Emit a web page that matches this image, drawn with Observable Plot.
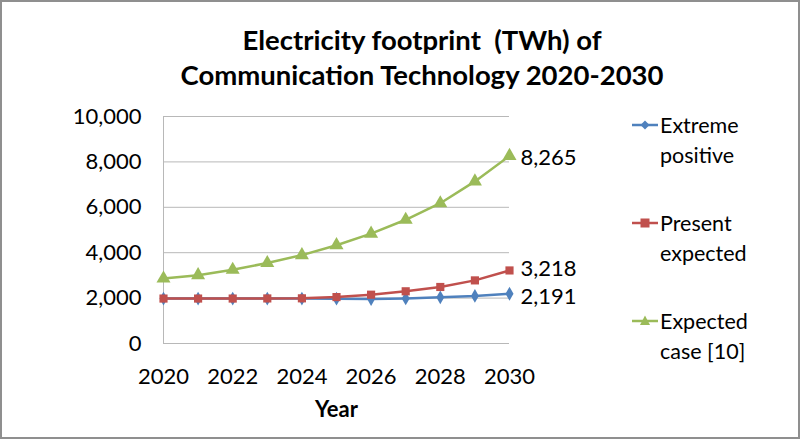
<!DOCTYPE html>
<html>
<head>
<meta charset="utf-8">
<script src="https://cdn.jsdelivr.net/npm/d3@7"></script>
<script src="https://cdn.jsdelivr.net/npm/@observablehq/plot@0.6"></script>
<style>
  body { margin: 0; background: #fff; font-family: Lato, "Open Sans", sans-serif; }
  #wrap { position: relative; width: 800px; height: 439px; overflow: hidden; }
  #frame { position: absolute; left: 0; top: 0; width: 800px; height: 439px; box-sizing: border-box; border: 2px solid #8f8f8f; pointer-events: none; }
  #title { position: absolute; left: 22px; width: 800px; top: 22px; text-align: center; font-weight: bold; font-size: 27.5px; line-height: 35px; color: #000; }
  #legend { position: absolute; left: 632px; top: 110px; font-size: 21.5px; color: #000; }
  .item { position: absolute; left: 0; width: 170px; line-height: 30px; }
  .item svg { position: absolute; left: 0; top: 9px; }
  .item span { position: absolute; left: 28px; top: 0; white-space: nowrap; }
</style>
</head>
<body>
<div id="wrap">
  <div id="chart"></div>
  <div id="title">Electricity footprint&nbsp; (TWh) of<br>Communication Technology 2020-2030</div>
  <div id="legend"></div>
  <div id="frame"></div>
</div>
<script>
const years = [2020, 2021, 2022, 2023, 2024, 2025, 2026, 2027, 2028, 2029, 2030];
const extremePositive = [1980, 1980, 1980, 1980, 1980, 1975, 1960, 1985, 2035, 2095, 2191];
const presentExpected = [1980, 1980, 1980, 1985, 1990, 2045, 2150, 2300, 2490, 2780, 3218];
const expectedCase = [2860, 3010, 3250, 3545, 3895, 4330, 4840, 5450, 6180, 7140, 8265];
const seriesNames = ["Extreme positive", "Present expected", "Expected case [10]"];
const seriesLegend = [["Extreme", "positive"], ["Present", "expected"], ["Expected", "case [10]"]];
const seriesColors = ["#4F81BD", "#C0504D", "#9BBB59"];
const seriesSymbols = ["diamond", "square", "triangle"];
const seriesSizes = [4.2, 4.6, 5.2];
const labelShift = [4, -1, 3];
const yTicks = [0, 2000, 4000, 6000, 8000, 10000];
const xTicks = [2020, 2022, 2024, 2026, 2028, 2030];

const allValues = [extremePositive, presentExpected, expectedCase];
const rows = [];
allValues.forEach((vals, i) => years.forEach((yr, j) => rows.push({series: seriesNames[i], idx: i, year: yr, value: vals[j]})));
const lastRows = rows.filter(d => d.year === 2030);
const fmt = d3.format(",");

const chart = Plot.plot({
  width: 800,
  height: 439,
  marginLeft: 163,
  marginRight: 291,
  marginTop: 116,
  marginBottom: 96,
  style: {fontFamily: "Lato, 'Open Sans', sans-serif", fontSize: "22px", color: "#000", background: "transparent"},
  x: {domain: [2020, 2030], ticks: xTicks, tickFormat: d => String(d), tickSize: 0, label: null},
  y: {domain: [0, 10000], ticks: yTicks, tickFormat: fmt, tickSize: 0, label: null},
  color: {domain: seriesNames, range: seriesColors},
  symbol: {domain: seriesNames, range: seriesSymbols},
  marks: [
    Plot.gridY(yTicks, {stroke: "#b8b8b8", strokeOpacity: 1, strokeWidth: 1}),
    Plot.ruleX([2020], {stroke: "#b8b8b8", strokeWidth: 1}),
    Plot.axisY({ticks: yTicks, tickFormat: fmt, tickSize: 0, tickPadding: 22, fontSize: 22}),
    Plot.axisX({ticks: xTicks, tickFormat: d => String(d), tickSize: 0, tickPadding: 25, fontSize: 22}),
    Plot.line(rows, {x: "year", y: "value", z: "series", stroke: "series", strokeWidth: 2.5}),
    ...seriesNames.map((name, i) => Plot.dot(rows.filter(d => d.idx === i), {x: "year", y: "value", fill: "series", symbol: "series", r: seriesSizes[i], stroke: "none"})),
    ...seriesNames.map((name, i) => Plot.text(lastRows.filter(d => d.idx === i), {x: "year", y: "value", text: d => fmt(d.value), dx: 11, dy: labelShift[i], textAnchor: "start", fontSize: 22, lineHeight: 0.9, fill: "#000"})),
    Plot.text(["Year"], {frameAnchor: "bottom", dy: 73, fontWeight: "bold", fontSize: 22, fill: "#000"})
  ]
});
document.getElementById("chart").appendChild(chart);

// Legend
const legend = document.getElementById("legend");
const shapes = [
  c => `<polygon points="13,-4.5 17.5,0 13,4.5 8.5,0" fill="${c}"/>`,
  c => `<rect x="8.5" y="-4.5" width="9" height="9" fill="${c}"/>`,
  c => `<polygon points="13,-5.5 18,4 8,4" fill="${c}"/>`
];
seriesLegend.forEach((lines, i) => {
  const div = document.createElement("div");
  div.className = "item";
  div.style.top = (i * 98) + "px";
  div.innerHTML = `<svg width="27" height="12" viewBox="0 -6 27 12"><line x1="0" x2="26" y1="0" y2="0" stroke="${seriesColors[i]}" stroke-width="2.5"/>${shapes[i](seriesColors[i])}</svg><span>${lines[0]}<br>${lines[1]}</span>`;
  legend.appendChild(div);
});
</script>
</body>
</html>
